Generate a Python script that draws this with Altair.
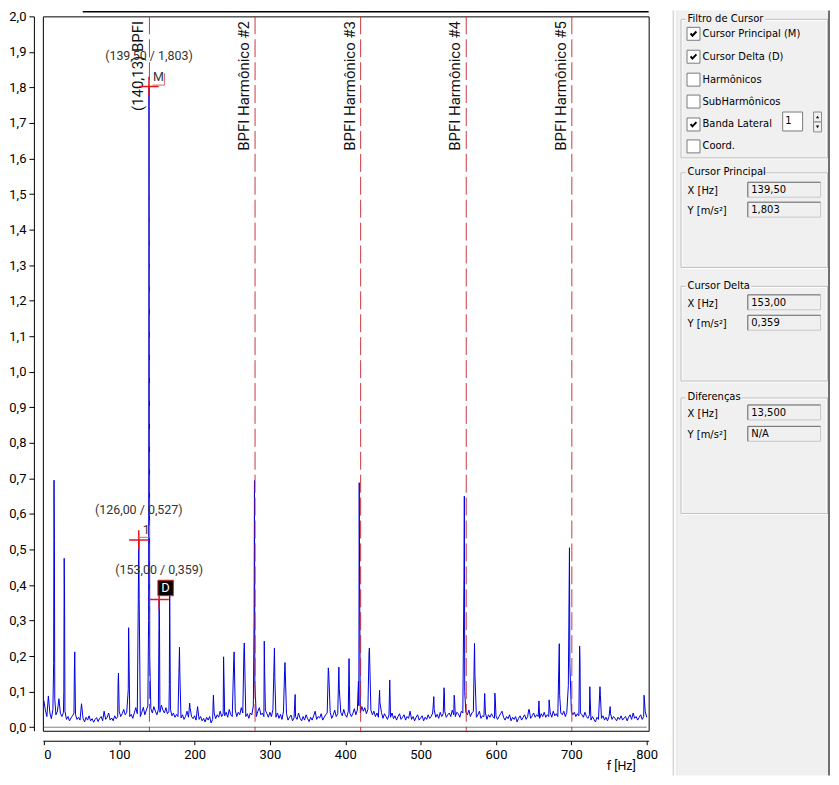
import altair as alt
import pandas as pd

# ---------------- spectrum data ----------------
# noise floor in (m/s²)/1000, read every 2 Hz
noise_0_98 = [75, 48, 30, 88, 40, 24, 50, 60, 35, 45, 80, 38, 30, 42, 45, 22, 30, 18, 26, 32,
              40, 35, 22, 28, 20, 66, 25, 15, 28, 20, 32, 18, 24, 14, 22, 27, 16, 25, 30, 18,
              45, 22, 28, 40, 20, 26, 18, 32, 24, 30]
noise_100_198 = [45, 30, 38, 50, 35, 42, 48, 30, 36, 25, 40, 55, 38, 45, 30, 42, 56, 35, 48, 60,
                 70, 52, 40, 58, 45, 35, 50, 42, 62, 48, 40, 55, 38, 45, 50, 32, 40, 28, 36, 30,
                 42, 26, 35, 22, 30, 45, 28, 55, 30, 24]
noise_200_298 = [32, 20, 58, 22, 30, 18, 25, 15, 28, 20, 30, 12, 22, 40, 24, 35, 28, 45, 30, 38,
                 32, 42, 28, 50, 35, 30, 40, 48, 30, 42, 35, 55, 40, 45, 30, 38, 25, 40, 35, 60,
                 50, 30, 45, 55, 35, 40, 30, 48, 38, 28]
noise_300_398 = [42, 30, 50, 35, 28, 40, 25, 36, 22, 45, 30, 38, 20, 28, 34, 18, 26, 30, 22, 40,
                 25, 18, 30, 20, 35, 24, 16, 28, 20, 32, 45, 22, 30, 26, 38, 20, 28, 35, 40, 30,
                 42, 25, 35, 48, 30, 38, 28, 42, 32, 50]
noise_400_498 = [35, 28, 45, 40, 30, 38, 52, 35, 48, 60, 40, 58, 45, 55, 38, 50, 42, 48, 35, 45,
                 30, 40, 28, 36, 42, 25, 38, 30, 22, 35, 28, 40, 24, 32, 20, 30, 38, 22, 28, 35,
                 20, 30, 25, 45, 22, 30, 18, 28, 35, 20]
noise_500_598 = [26, 32, 18, 28, 22, 35, 25, 30, 40, 50, 28, 36, 25, 42, 30, 38, 45, 28, 35, 40,
                 30, 48, 35, 30, 42, 38, 28, 45, 40, 60, 42, 35, 48, 30, 40, 45, 38, 28, 35, 45,
                 25, 32, 30, 40, 22, 35, 28, 38, 30, 25]
noise_600_698 = [32, 22, 30, 38, 45, 28, 20, 30, 24, 35, 18, 28, 22, 30, 15, 25, 32, 20, 28, 35,
                 22, 30, 50, 25, 32, 40, 28, 35, 30, 25, 38, 30, 42, 28, 35, 30, 40, 28, 45, 32,
                 38, 30, 60, 40, 35, 45, 30, 42, 48, 60]
noise_700_800 = [45, 35, 42, 30, 38, 32, 40, 35, 28, 42, 30, 25, 35, 20, 30, 22, 15, 28, 22, 30,
                 25, 32, 20, 28, 18, 30, 38, 22, 30, 25, 18, 28, 22, 32, 20, 26, 30, 18, 28, 35,
                 22, 40, 25, 30, 20, 28, 35, 22, 30, 45, 28]
NOISE_STEP_HZ = 2.0

# spectral lines (Hz, m/s²)
peaks_shaft = [(13.0, 0.18), (13.5, 0.695), (14.0, 0.525), (14.5, 0.08), (26.5, 0.10), (27.0, 0.475),
               (27.5, 0.355), (40.5, 0.155), (41.0, 0.212)]
peaks_h1 = [(98.5, 0.125), (99.0, 0.152), (112.0, 0.106), (112.5, 0.28), (126.0, 0.527), (126.5, 0.36),
            (139.0, 0.30), (139.5, 1.803), (140.0, 1.25), (140.5, 0.20), (153.0, 0.359), (153.5, 0.28),
            (166.5, 0.12), (167.0, 0.374), (180.0, 0.225), (180.5, 0.15), (193.5, 0.068)]
peaks_h2 = [(225.0, 0.09), (238.5, 0.198), (252.0, 0.19), (252.5, 0.212), (265.5, 0.215), (266.0, 0.237),
            (279.0, 0.31), (279.5, 0.694), (280.0, 0.12), (292.5, 0.242), (293.0, 0.16), (306.0, 0.223),
            (306.5, 0.14), (319.5, 0.16), (320.0, 0.182), (333.5, 0.092)]
peaks_h3 = [(377.5, 0.167), (378.0, 0.155), (391.5, 0.169), (392.0, 0.11), (405.0, 0.193), (405.5, 0.12),
            (417.5, 0.13), (418.5, 0.688), (419.0, 0.42), (431.5, 0.21), (432.0, 0.223), (445.5, 0.104),
            (446.0, 0.07), (459.0, 0.133), (459.5, 0.09), (486.0, 0.045)]
peaks_h4 = [(517.5, 0.086), (531.0, 0.111), (531.5, 0.10), (544.5, 0.09), (545.0, 0.08), (557.5, 0.421),
            (558.0, 0.65), (558.5, 0.10), (571.5, 0.236), (572.0, 0.153), (585.0, 0.095), (598.5, 0.096),
            (599.0, 0.08)]
peaks_h5 = [(643.5, 0.05), (657.0, 0.074), (670.5, 0.077), (684.0, 0.235), (684.5, 0.09), (696.0, 0.117),
            (697.5, 0.505), (698.0, 0.18), (711.0, 0.228), (711.5, 0.19), (724.5, 0.114), (725.0, 0.08),
            (738.0, 0.114), (738.5, 0.09), (751.5, 0.058), (796.5, 0.09)]

bpfi_f = [140.13, 280.26, 420.39, 560.52, 700.65]
bpfi_txt = ["(140,13) BPFI", "BPFI Harmônico #2", "BPFI Harmônico #3", "BPFI Harmônico #4", "BPFI Harmônico #5"]

cur_tag = ["M", "1", "D"]
cur_f = [139.5, 126.0, 153.0]
cur_a = [1.803, 0.527, 0.359]

x_ticks = [0, 100, 200, 300, 400, 500, 600, 700, 800]
y_ticks = [round(0.1 * i, 1) for i in range(21)]

# ---------------- tables ----------------
noise = (noise_0_98 + noise_100_198 + noise_200_298 + noise_300_398 +
         noise_400_498 + noise_500_598 + noise_600_698 + noise_700_800)
spec = {i * NOISE_STEP_HZ: v / 1000.0 for i, v in enumerate(noise)}
for f, a in peaks_shaft + peaks_h1 + peaks_h2 + peaks_h3 + peaks_h4 + peaks_h5:
    spec[f] = a
df_spec = pd.DataFrame(sorted(spec.items()), columns=["f", "a"])

df_bpfi = pd.DataFrame({"f": bpfi_f, "t": bpfi_txt, "a": [1.987] * len(bpfi_f)})
df_cur = pd.DataFrame({"tag": cur_tag, "f": cur_f, "a": cur_a,
                       "lab": [("(%.2f / %.3f)" % (f, a)).replace(".", ",") for f, a in zip(cur_f, cur_a)]})
df_base = pd.DataFrame({"f": [0.0], "f2": [800.0], "a": [0.0]})
df_top = pd.DataFrame({"f": [51.6], "f2": [802.6], "a": [2.013]})

FONT = "Roboto"
XS = alt.Scale(domain=[-1.3, 802.6], nice=False, zero=False)
YS = alt.Scale(domain=[-0.01, 2.0], nice=False, zero=False)

x_axis = alt.Axis(values=x_ticks, tickCount=9, format="d", offset=10, tickSize=4, labelPadding=4,
                  labelFont=FONT, labelFontSize=13, labelColor="black",
                  domainColor="black", tickColor="black", grid=False,
                  title="f [Hz]", titleFont=FONT, titleFontSize=12.5, titleFontWeight="normal",
                  titleColor="black", titleX=580, titleY=19, titleBaseline="top")
y_axis = alt.Axis(values=y_ticks, tickCount=21, labelExpr="replace(format(datum.value, '.1f'), '.', ',')",
                  labelOverlap=False, offset=9, tickSize=5, labelPadding=3, labelFont=FONT,
                  labelFontSize=13, labelColor="black", domainColor="black", tickColor="black",
                  grid=False, title=None)

base = alt.Chart(df_base).mark_rule(color="#808080", strokeWidth=1).encode(
    x=alt.X("f:Q", scale=XS, axis=x_axis), x2="f2:Q", y=alt.Y("a:Q", scale=YS, axis=y_axis))
top_rule = alt.Chart(df_top).mark_rule(color="black", strokeWidth=1.5).encode(x="f:Q", x2="f2:Q", y="a:Q")
line = alt.Chart(df_spec).mark_line(color="#0000e0", strokeWidth=1).encode(x="f:Q", y="a:Q")
bpfi_rules = alt.Chart(df_bpfi).mark_rule(color="#c4232b", strokeWidth=1, strokeDash=[18, 5], opacity=0.9).encode(x="f:Q")
bpfi_text = alt.Chart(df_bpfi).mark_text(angle=270, align="right", baseline="middle", dy=-11,
                                         font=FONT, fontSize=15, color="#111111").encode(
    x="f:Q", y="a:Q", text="t:N")
cur_text = alt.Chart(df_cur).mark_text(align="center", baseline="middle", dy=-30, font=FONT,
                                       fontSize=12.5, color="#333333").encode(x="f:Q", y="a:Q", text="lab:N")
crosses = alt.Chart(df_cur).mark_point(shape="M-1,0L1,0M0,-1L0,1", size=380, filled=False,
                                       stroke="#e8141b", strokeWidth=1.5, opacity=1).encode(x="f:Q", y="a:Q")
tags = alt.Chart(df_cur).transform_filter("datum.tag != 'D'").mark_text(
    align="left", baseline="middle", dx=4, dy=-9.5, font=FONT, fontSize=12.5, color="#333333").encode(
    x="f:Q", y="a:Q", text="tag:N")
bracket_m = alt.Chart(df_cur).transform_filter("datum.tag == 'M'").mark_point(
    shape="M1,-1L1,1L-1,1", size=144, filled=False, stroke="#e06060", strokeWidth=1, opacity=1,
    xOffset=9.5, yOffset=-7.3).encode(x="f:Q", y="a:Q")
bracket_1 = alt.Chart(df_cur).transform_filter("datum.tag == '1'").mark_point(
    shape="M1,-1L1,1L-1,1", size=144, filled=False, stroke="#e06060", strokeWidth=1, opacity=1,
    xOffset=4.7, yOffset=-8.6).encode(x="f:Q", y="a:Q")
dbox = alt.Chart(df_cur).transform_filter("datum.tag == 'D'").mark_point(
    shape="M-1,-1L1,-1L1,1L-1,1Z", size=240, filled=True, fill="black", stroke="#e02020",
    strokeWidth=1, opacity=1, xOffset=6.5, yOffset=-11.7).encode(x="f:Q", y="a:Q")
dtext = alt.Chart(df_cur).transform_filter("datum.tag == 'D'").mark_text(
    align="center", baseline="middle", dx=6.5, dy=-11.2, font=FONT, fontSize=13, color="white").encode(
    x="f:Q", y="a:Q", text="tag:N")

chart1 = alt.layer(base, top_rule, line, bpfi_rules, bpfi_text, cur_text, crosses, tags,
                   bracket_m, bracket_1, dbox, dtext).properties(
    width=608, height=717, view=alt.ViewBackground(stroke="black", strokeWidth=1))

# ---------------- side panel (Windows dialog) ----------------
# panel units are screen pixels of the dialog, y measured downward from its top edge
PW, PH = 159, 762
PTOP = 6.5          # the dialog starts a little above the plot's top edge
PXS = alt.Scale(domain=[0, PW], nice=False, zero=False)
PYS = alt.Scale(domain=[PTOP, PH + PTOP], reverse=True, nice=False, zero=False)
PFONT = "DejaVu Sans"

bg_x0 = [0, 1, 2.5, 5, 6, 157]
bg_x1 = [1, 2.5, 5, 6, 157, 159]
bg_c = ["#ffffff", "#d6d6d6", "#fbfbfb", "#d6d6d6", "#f0f0f0", "#6f6f6f"]

gb_title = ["Filtro de Cursor", "Cursor Principal", "Cursor Delta", "Diferenças"]
gb_top = [9, 163, 277, 389]
gb_bottom = [148, 258, 372, 505]
gb_title_w = [80, 78, 66, 56]

cb_text = ["Cursor Principal (M)", "Cursor Delta  (D)", "Harmônicos", "SubHarmônicos", "Banda Lateral", "Coord."]
cb_y = [24, 47, 70, 92, 115, 137]
cb_on = [True, True, False, False, True, False]

fd_label = ["X [Hz]", "Y [m/s²]", "X [Hz]", "Y [m/s²]", "X [Hz]", "Y [m/s²]"]
fd_value = ["139,50", "1,803", "153,00", "0,359", "13,500", "N/A"]
fd_y = [180.5, 200.5, 293.5, 314, 404, 425.5]

spin_value = "1"


def prect(df, **kw):
    return alt.Chart(df).mark_rect(**kw).encode(
        x=alt.X("x0:Q", scale=PXS, axis=None), x2="x1:Q",
        y=alt.Y("y0:Q", scale=PYS, axis=None), y2="y1:Q")


def ptext(df, **kw):
    return alt.Chart(df).mark_text(font=PFONT, fontSize=10, color="black", baseline="middle", **kw).encode(
        x=alt.X("x:Q", scale=PXS, axis=None), y=alt.Y("y:Q", scale=PYS, axis=None), text="t:N")


def prule(df, **kw):
    return alt.Chart(df).mark_rule(**kw).encode(
        x=alt.X("x0:Q", scale=PXS, axis=None), x2="x1:Q",
        y=alt.Y("y0:Q", scale=PYS, axis=None), y2="y1:Q")


df_bg = pd.DataFrame({"x0": bg_x0, "x1": bg_x1, "y0": 0.5, "y1": PH + PTOP, "c": bg_c})
bg = alt.Chart(df_bg).mark_rect().encode(
    x=alt.X("x0:Q", scale=PXS, axis=None), x2="x1:Q",
    y=alt.Y("y0:Q", scale=PYS, axis=None), y2="y1:Q",
    fill=alt.Fill("c:N", scale=None))

df_gb = pd.DataFrame({"x0": 9.5, "x1": 156.5, "y0": [t + 0.5 for t in gb_top], "y1": [b + 0.5 for b in gb_bottom]})
df_gbw = pd.DataFrame({"x0": 10.5, "x1": 155.5, "y0": [t + 1.5 for t in gb_top], "y1": [b + 1.5 for b in gb_bottom]})
df_gt_bg = pd.DataFrame({"x0": 14, "x1": [14 + w for w in gb_title_w],
                         "y0": [t - 6 for t in gb_top], "y1": [t + 6 for t in gb_top]})
df_gt = pd.DataFrame({"x": 16, "y": gb_top, "t": gb_title})

df_cb = pd.DataFrame({"x0": 15.5, "x1": 28.5, "y0": [c - 6.5 for c in cb_y], "y1": [c + 6.5 for c in cb_y]})
df_ck = pd.DataFrame({"x": 22, "y": [c for c, on in zip(cb_y, cb_on) if on]})
df_cbt = pd.DataFrame({"x": 31, "y": cb_y, "t": cb_text})

df_spin = pd.DataFrame({"x0": [111.5], "x1": [131.5], "y0": [102.5], "y1": [121.5]})
df_spin_t = pd.DataFrame({"x": [114], "y": [112], "t": [spin_value]})
df_spin_b = pd.DataFrame({"x0": [142.5, 142.5], "x1": [150.5, 150.5], "y0": [102.5, 112.5], "y1": [112.5, 122.5]})
df_up = pd.DataFrame({"x": [146.5], "y": [107.5]})
df_dn = pd.DataFrame({"x": [146.5], "y": [117.5]})

df_fb = pd.DataFrame({"x0": 76.5, "x1": 149.5, "y0": [c - 7.5 for c in fd_y], "y1": [c + 7.5 for c in fd_y]})
df_ft = pd.DataFrame({"x0": 76.5, "x1": 149.5, "y0": [c - 7.5 for c in fd_y], "y1": [c - 7.5 for c in fd_y]})
df_fl = pd.DataFrame({"x0": 76.5, "x1": 76.5, "y0": [c - 7.5 for c in fd_y], "y1": [c + 7.5 for c in fd_y]})
df_flab = pd.DataFrame({"x": 16, "y": [c + 1.5 for c in fd_y], "t": fd_label})
df_fval = pd.DataFrame({"x": 80, "y": [c + 0.5 for c in fd_y], "t": fd_value})

pt_enc = dict(x=alt.X("x:Q", scale=PXS, axis=None), y=alt.Y("y:Q", scale=PYS, axis=None))

panel = alt.layer(
    bg,
    prect(df_gbw, fill="transparent", stroke="#ffffff", strokeWidth=1),
    prect(df_gb, fill="transparent", stroke="#c0c0c0", strokeWidth=1),
    prect(df_gt_bg, fill="#f0f0f0"),
    ptext(df_gt, align="left"),
    prect(df_cb, fill="white", stroke="#7a7a7a", strokeWidth=1),
    alt.Chart(df_ck).mark_point(shape="M-0.7,-0.1L-0.25,0.45L0.7,-0.55", size=70, filled=False,
                                stroke="black", strokeWidth=2, opacity=1).encode(**pt_enc),
    ptext(df_cbt, align="left"),
    prect(df_spin, fill="white", stroke="#7a7a7a", strokeWidth=1),
    ptext(df_spin_t, align="left"),
    prect(df_spin_b, fill="#f0f0f0", stroke="#8a8a8a", strokeWidth=1),
    alt.Chart(df_up).mark_point(shape="triangle-up", size=10, filled=True, color="black", opacity=1).encode(**pt_enc),
    alt.Chart(df_dn).mark_point(shape="triangle-down", size=10, filled=True, color="black", opacity=1).encode(**pt_enc),
    prect(df_fb, fill="#f0f0f0", stroke="#c8c8c8", strokeWidth=1),
    prule(df_ft, color="#6e6e6e", strokeWidth=1),
    prule(df_fl, color="#6e6e6e", strokeWidth=1),
    ptext(df_flab, align="left"),
    ptext(df_fval, align="left"),
).properties(width=PW, height=PH, view=alt.ViewBackground(stroke="transparent"))

chart = alt.hconcat(chart1, panel, spacing=12).properties(padding=0, background="white")

chart.save("out.html", embed_options={"renderer": "svg", "actions": False})
